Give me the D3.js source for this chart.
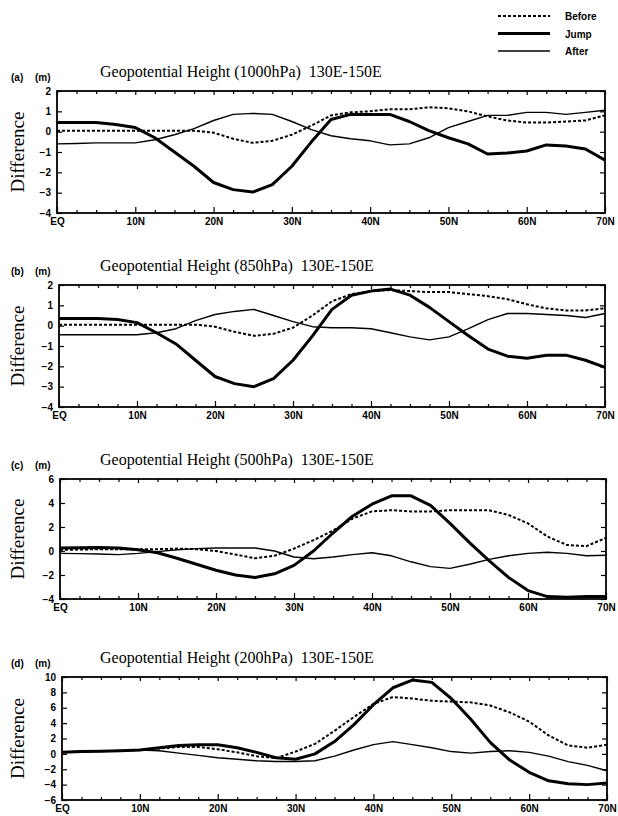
<!DOCTYPE html>
<html>
<head>
<meta charset="utf-8">
<script src="https://d3js.org/d3.v7.min.js"></script>
<style>
  body { margin: 0; background: #fff; }
  .tick text { font-family: "Liberation Sans", Arial, sans-serif; font-weight: bold; font-size: 10px; fill: #000; }
  .tick line { stroke: #000; stroke-width: 1.2; }
</style>
</head>
<body>
<div id="chart"></div>
<script>
// latitude points (2.5 deg grid)
var lats = [0, 2.5, 5, 7.5, 10, 12.5, 15, 17.5, 20, 22.5, 25, 27.5, 30, 32.5, 35,
            37.5, 40, 42.5, 45, 47.5, 50, 52.5, 55, 57.5, 60, 62.5, 65, 67.5, 70];
var xTickValues = [0, 10, 20, 30, 40, 50, 60, 70];
var xTickLabels = ["EQ", "10N", "20N", "30N", "40N", "50N", "60N", "70N"];

// (a) 1000hPa
var beforeA = [0.05, 0.05, 0.05, 0.05, 0.05, 0.05, 0.05, 0.05, -0.05, -0.35, -0.55, -0.45, -0.15, 0.3, 0.8,
               0.95, 1.0, 1.1, 1.1, 1.2, 1.15, 1.0, 0.75, 0.55, 0.45, 0.45, 0.5, 0.55, 0.8];
var jumpA = [0.45, 0.45, 0.45, 0.35, 0.2, -0.3, -1.0, -1.7, -2.5, -2.85, -2.97, -2.6, -1.7, -0.5, 0.6,
             0.85, 0.85, 0.85, 0.5, 0.05, -0.3, -0.6, -1.1, -1.05, -0.95, -0.65, -0.7, -0.85, -1.4];
var afterA = [-0.6, -0.58, -0.55, -0.55, -0.55, -0.4, -0.15, 0.15, 0.55, 0.85, 0.9, 0.85, 0.5, 0.1, -0.2,
              -0.35, -0.45, -0.65, -0.6, -0.3, 0.2, 0.5, 0.8, 0.8, 0.95, 0.95, 0.85, 0.95, 1.05];

// (b) 850hPa
var beforeB = [0.05, 0.05, 0.05, 0.05, 0.05, 0.05, 0.05, 0.05, -0.05, -0.3, -0.5, -0.4, -0.1, 0.5, 1.2,
               1.55, 1.7, 1.75, 1.7, 1.65, 1.65, 1.55, 1.45, 1.3, 1.05, 0.85, 0.75, 0.75, 0.85];
var jumpB = [0.35, 0.35, 0.35, 0.3, 0.15, -0.35, -0.9, -1.7, -2.5, -2.85, -3.0, -2.6, -1.7, -0.5, 0.8,
             1.5, 1.7, 1.8, 1.5, 0.9, 0.2, -0.5, -1.15, -1.5, -1.6, -1.45, -1.45, -1.7, -2.05];
var afterB = [-0.45, -0.45, -0.45, -0.45, -0.45, -0.35, -0.15, 0.25, 0.55, 0.7, 0.8, 0.5, 0.2, -0.05, -0.1,
              -0.1, -0.15, -0.35, -0.55, -0.7, -0.55, -0.15, 0.3, 0.6, 0.6, 0.55, 0.5, 0.4, 0.6];

// (c) 500hPa
var beforeC = [0.1, 0.12, 0.15, 0.15, 0.15, 0.15, 0.2, 0.15, 0.0, -0.3, -0.6, -0.4, 0.2, 0.9, 1.7,
               2.7, 3.3, 3.4, 3.3, 3.3, 3.4, 3.4, 3.4, 3.0, 2.3, 1.2, 0.5, 0.4, 1.1];
var jumpC = [0.25, 0.28, 0.3, 0.25, 0.1, -0.15, -0.6, -1.1, -1.6, -2.0, -2.2, -1.9, -1.2, 0.0, 1.5,
             2.9, 3.9, 4.6, 4.6, 3.8, 2.3, 0.7, -0.8, -2.2, -3.3, -3.8, -3.85, -3.8, -3.8];
var afterC = [-0.2, -0.22, -0.25, -0.3, -0.2, -0.05, 0.1, 0.2, 0.25, 0.25, 0.25, 0.0, -0.5, -0.65, -0.5,
              -0.3, -0.15, -0.4, -0.9, -1.3, -1.45, -1.1, -0.7, -0.4, -0.2, -0.1, -0.2, -0.4, -0.35];

// (d) 200hPa
var beforeD = [0.2, 0.3, 0.35, 0.4, 0.5, 0.7, 0.9, 0.9, 0.6, 0.2, -0.3, -0.55, 0.3, 1.3, 3.0,
               4.8, 6.5, 7.4, 7.2, 6.9, 6.8, 6.7, 6.3, 5.4, 4.2, 2.4, 1.1, 0.8, 1.2];
var jumpD = [0.2, 0.3, 0.35, 0.4, 0.5, 0.8, 1.1, 1.2, 1.2, 0.8, 0.2, -0.5, -0.7, 0.0, 1.6,
             3.8, 6.4, 8.6, 9.6, 9.3, 7.2, 4.5, 1.5, -0.8, -2.4, -3.5, -3.9, -4.0, -3.8];
var afterD = [0.2, 0.3, 0.35, 0.4, 0.5, 0.4, 0.1, -0.2, -0.5, -0.7, -0.9, -1.0, -1.0, -0.9, -0.3,
              0.5, 1.2, 1.6, 1.2, 0.8, 0.3, 0.1, 0.3, 0.4, 0.2, -0.3, -1.0, -1.5, -2.2];

var yTicksA = [-4, -3, -2, -1, 0, 1, 2];
var yTicksB = [-4, -3, -2, -1, 0, 1, 2];
var yTicksC = [-4, -2, 0, 2, 4, 6];
var yTicksD = [-6, -4, -2, 0, 2, 4, 6, 8, 10];

var seriesNames = ["Before", "Jump", "After"];

var panels = [
  {tag: "(a)", level: "1000hPa", before: beforeA, jump: jumpA, after: afterA, yTicks: yTicksA, top: 91, bottom: 213, left: 57, right: 605},
  {tag: "(b)", level: "850hPa", before: beforeB, jump: jumpB, after: afterB, yTicks: yTicksB, top: 285, bottom: 407, left: 59, right: 605},
  {tag: "(c)", level: "500hPa", before: beforeC, jump: jumpC, after: afterC, yTicks: yTicksC, top: 479, bottom: 599, left: 60, right: 606},
  {tag: "(d)", level: "200hPa", before: beforeD, jump: jumpD, after: afterD, yTicks: yTicksD, top: 677, bottom: 800, left: 62, right: 607}
];

var styles = {
  Before: {width: 2, dash: "3,2"},
  Jump: {width: 3, dash: null},
  After: {width: 1.4, dash: null}
};

var svg = d3.select("#chart").append("svg")
  .attr("width", 618)
  .attr("height", 816);

var serif = "'Liberation Serif', 'Times New Roman', serif";
var sans = "'Liberation Sans', Arial, sans-serif";

function drawPanel(p) {
  var g = svg.append("g");
  var x = d3.scaleLinear().domain([0, 70]).range([p.left, p.right]);
  var y = d3.scaleLinear().domain(d3.extent(p.yTicks)).range([p.bottom, p.top]);
  var minor = d3.range(0, 70.01, 2.5).filter(function (v) { return v % 10 !== 0; });

  // ticks, all pointing inward
  g.append("g").attr("transform", "translate(" + p.left + ",0)")
    .call(d3.axisLeft(y).tickValues(p.yTicks).tickSize(-5).tickPadding(6).tickFormat(d3.format("d")));
  g.append("g").attr("transform", "translate(" + p.right + ",0)")
    .call(d3.axisRight(y).tickValues(p.yTicks).tickSize(-5).tickFormat(""));
  g.append("g").attr("transform", "translate(0," + p.bottom + ")")
    .call(d3.axisBottom(x).tickValues(xTickValues).tickSize(-6).tickPadding(5)
      .tickFormat(function (d, i) { return xTickLabels[i]; }));
  g.append("g").attr("transform", "translate(0," + p.bottom + ")")
    .call(d3.axisBottom(x).tickValues(minor).tickSize(-3).tickFormat(""));
  g.append("g").attr("transform", "translate(0," + p.top + ")")
    .call(d3.axisTop(x).tickValues(xTickValues).tickSize(-4).tickFormat(""));
  g.append("g").attr("transform", "translate(0," + p.top + ")")
    .call(d3.axisTop(x).tickValues(minor).tickSize(-3).tickFormat(""));
  g.selectAll(".domain").remove();

  g.append("rect")
    .attr("x", p.left).attr("y", p.top)
    .attr("width", p.right - p.left).attr("height", p.bottom - p.top)
    .attr("fill", "none").attr("stroke", "#000").attr("stroke-width", 1.8);

  var line = d3.line()
    .x(function (d, i) { return x(lats[i]); })
    .y(function (d) { return y(d); });

  [["Before", p.before], ["Jump", p.jump], ["After", p.after]].forEach(function (s) {
    g.append("path")
      .datum(s[1])
      .attr("d", line)
      .attr("fill", "none")
      .attr("stroke", "#000")
      .attr("stroke-width", styles[s[0]].width)
      .attr("stroke-dasharray", styles[s[0]].dash)
      .attr("stroke-linejoin", "round");
  });

  // labels
  g.append("text").attr("x", 11).attr("y", p.top - 10)
    .style("font-family", sans).style("font-weight", "bold").style("font-size", "10px")
    .text(p.tag);
  g.append("text").attr("x", 35).attr("y", p.top - 10)
    .style("font-family", sans).style("font-weight", "bold").style("font-size", "10px")
    .text("(m)");
  g.append("text").attr("x", 100).attr("y", p.top - 14)
    .style("font-family", serif).style("font-size", "16px")
    .attr("xml:space", "preserve")
    .text("Geopotential Height (" + p.level + ")  130E-150E");
  g.append("text")
    .attr("transform", "translate(24," + ((p.top + p.bottom) / 2) + ") rotate(-90)")
    .attr("text-anchor", "middle")
    .style("font-family", serif).style("font-size", "19px")
    .text("Difference");
}

panels.forEach(drawPanel);

// legend
var legend = svg.append("g");
seriesNames.forEach(function (name, i) {
  var yy = 16 + i * 17.5;
  legend.append("line")
    .attr("x1", 498).attr("x2", 550).attr("y1", yy).attr("y2", yy)
    .attr("stroke", "#000")
    .attr("stroke-width", styles[name].width)
    .attr("stroke-dasharray", styles[name].dash);
  legend.append("text")
    .attr("x", 565).attr("y", yy + 4)
    .style("font-family", sans).style("font-weight", "bold").style("font-size", "10px")
    .text(name);
});
</script>
</body>
</html>
